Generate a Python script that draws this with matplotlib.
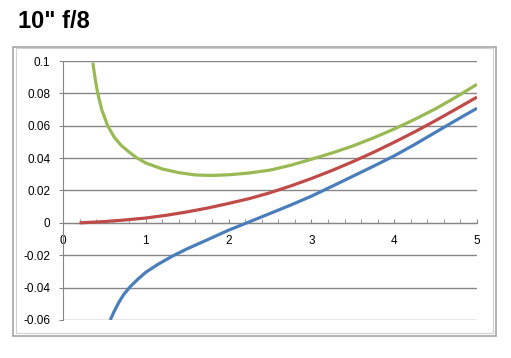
import matplotlib.pyplot as plt
from matplotlib.patches import Rectangle
from matplotlib.ticker import MultipleLocator

plt.rcParams["font.family"] = ["Liberation Sans", "DejaVu Sans"]

TITLE = '10" f/8'

green_x = [0.36, 0.39, 0.42, 0.47, 0.54, 0.62, 0.70, 0.80, 0.89, 1.00, 1.20, 1.40,
           1.60, 1.80, 2.00, 2.25, 2.50, 2.75, 3.00, 3.25, 3.50, 3.75, 4.00, 4.25,
           4.50, 4.75, 5.00]
green_y = [0.0990, 0.0885, 0.0800, 0.0695, 0.0600, 0.0528, 0.0480, 0.0437, 0.0402,
           0.0370, 0.0333, 0.0310, 0.0296, 0.0293, 0.0297, 0.0308, 0.0326, 0.0356,
           0.0393, 0.0432, 0.0475, 0.0525, 0.0580, 0.0640, 0.0705, 0.0778, 0.0856]

red_x = [0.20, 0.50, 0.75, 1.00, 1.25, 1.50, 1.75, 2.00, 2.25, 2.50, 2.75, 3.00,
         3.25, 3.50, 3.75, 4.00, 4.25, 4.50, 4.75, 5.00]
red_y = [0.0, 0.0008, 0.0018, 0.0030, 0.0047, 0.0068, 0.0092, 0.0120, 0.0150,
         0.0186, 0.0228, 0.0274, 0.0324, 0.0378, 0.0436, 0.0498, 0.0563, 0.0632,
         0.0704, 0.0777]

blue_x = [0.57, 0.62, 0.67, 0.73, 0.81, 0.90, 1.00, 1.15, 1.33, 1.50, 1.75, 2.00,
          2.22, 2.50, 2.75, 3.00, 3.25, 3.50, 3.75, 4.00, 4.25, 4.50, 4.75, 5.00]
blue_y = [-0.0600, -0.0545, -0.0495, -0.0445, -0.0395, -0.0350, -0.0305, -0.0255,
          -0.0203, -0.0160, -0.0103, -0.0045, 0.0, 0.0058, 0.0110, 0.0165, 0.0226,
          0.0288, 0.0350, 0.0414, 0.0485, 0.0560, 0.0635, 0.0708]

fig = plt.figure(figsize=(5.11, 3.58), dpi=100)
ax = fig.add_axes([63 / 511, 1 - 320 / 358, 414 / 511, 259 / 358])

ax.plot(blue_x, blue_y, color="#4a7ebb", lw=2.3, solid_capstyle="butt", zorder=3)
ax.plot(red_x, red_y, color="#be4b48", lw=2.3, solid_capstyle="butt", zorder=3)
ax.plot(green_x, green_y, color="#98b954", lw=2.3, solid_capstyle="butt", zorder=3)

ax.set_xlim(0, 5)
ax.set_ylim(-0.06, 0.1)
ax.xaxis.set_major_locator(MultipleLocator(1))
ax.xaxis.set_minor_locator(MultipleLocator(0.2))
ax.yaxis.set_major_locator(MultipleLocator(0.02))
ax.set_yticklabels([f"{v:g}" for v in ax.get_yticks()])

ax.grid(axis="y", color="#868686", lw=1.0)
ax.set_axisbelow(True)
for side in ("top", "right"):
    ax.spines[side].set_visible(False)
ax.spines["bottom"].set_position(("data", 0))
ax.spines["bottom"].set_color("#868686")
ax.spines["left"].set_color("#868686")

ax.tick_params(axis="x", which="both", direction="in", length=3, color="#868686",
               pad=9, labelsize=8.5)
ax.tick_params(axis="y", direction="out", length=3, color="#868686", pad=6,
               labelsize=8.5)

fig.patches.append(Rectangle((13 / 511, 1 - 336 / 358), 483 / 511, 289 / 358,
                             transform=fig.transFigure, fill=False,
                             edgecolor="#a6a6a6", lw=1.2))
fig.patches.append(Rectangle((16 / 511, 1 - 333 / 358), 477 / 511, 285 / 358,
                             transform=fig.transFigure, fill=False,
                             edgecolor="#d0d0d0", lw=0.8))

fig.text(18 / 511, 1 - 28 / 358, TITLE, fontsize=17, fontweight="bold",
         ha="left", va="baseline")

fig.savefig("out.png", dpi=100)
